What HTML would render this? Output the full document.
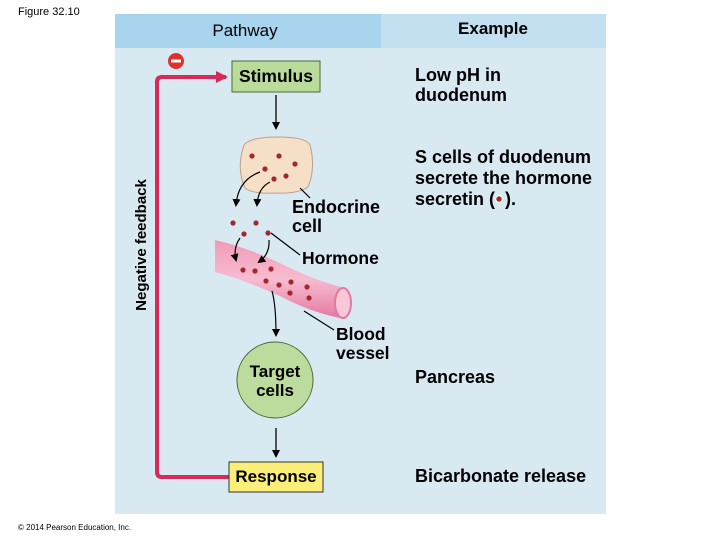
<!DOCTYPE html>
<html><head><style>body{margin:0;background:#fff}svg{display:block}text{font-family:"Liberation Sans",sans-serif;font-weight:bold}</style></head><body>
<svg width="720" height="540" xmlns="http://www.w3.org/2000/svg">
<defs>
<marker id="a" markerWidth="8" markerHeight="8" refX="6" refY="4" orient="auto" markerUnits="userSpaceOnUse"><path d="M0,0 L8,4 L0,8 Z" fill="#000"/></marker>
<marker id="r" markerWidth="12" markerHeight="12" refX="10" refY="6" orient="auto" markerUnits="userSpaceOnUse"><path d="M0,0 L12,6 L0,12 Z" fill="#d82a5a"/></marker>
<linearGradient id="v" x1="0" y1="0" x2="0" y2="1"><stop offset="0" stop-color="#f29ab8"/><stop offset="0.5" stop-color="#f7bcd0"/><stop offset="1" stop-color="#e57aa2"/></linearGradient>
</defs>
<text x="18" y="15" font-size="11" style="font-weight:normal">Figure 32.10</text>
<rect x="115" y="14" width="491" height="500" fill="#d8e9f2"/>
<rect x="115" y="14" width="266" height="34" fill="#a9d4ee"/>
<rect x="381" y="14" width="225" height="34" fill="#c3e0f1"/>
<text x="245" y="36" font-size="17" text-anchor="middle" style="font-weight:normal">Pathway</text>
<text x="493" y="34" font-size="17" text-anchor="middle">Example</text>
<path d="M232,477 L162,477 Q157,477 157,472 L157,82 Q157,77 162,77 L226,77" fill="none" stroke="#d82a5a" stroke-width="4" marker-end="url(#r)"/>
<circle cx="176" cy="61" r="8" fill="#e0302e"/><rect x="171" y="59.5" width="10" height="3" fill="#fff"/>
<text transform="translate(146,245) rotate(-90)" font-size="15" text-anchor="middle">Negative feedback</text>
<rect x="232" y="61" width="88" height="31" fill="#b9dc9a" stroke="#4a6b3a"/>
<text x="276" y="82" font-size="17.5" text-anchor="middle">Stimulus</text>
<line x1="276" y1="95" x2="276" y2="128" stroke="#000" stroke-width="1.3" marker-end="url(#a)"/>
<path d="M244,145 Q250,137 278,137 Q306,137 310,145 Q316,168 308,187 Q298,194 276,193 Q252,194 245,188 Q236,168 244,145 Z" fill="#f6dfc7" stroke="#b9a08a"/>
<g fill="#a4272a"><circle cx="252" cy="156" r="2.6"/><circle cx="279" cy="156" r="2.6"/><circle cx="295" cy="164" r="2.6"/><circle cx="265" cy="169" r="2.6"/><circle cx="274" cy="179" r="2.6"/><circle cx="286" cy="176" r="2.6"/>
<circle cx="233" cy="223" r="2.6"/><circle cx="256" cy="223" r="2.6"/><circle cx="244" cy="234" r="2.6"/><circle cx="268" cy="233" r="2.6"/></g>
<path d="M260,172 Q238,180 236,205" fill="none" stroke="#000" stroke-width="1.2" marker-end="url(#a)"/>
<path d="M270,182 Q258,188 257,205" fill="none" stroke="#000" stroke-width="1.2" marker-end="url(#a)"/>
<line x1="300" y1="188" x2="310" y2="198" stroke="#000" stroke-width="1.2"/>
<text x="292" y="213" font-size="18">Endocrine</text><text x="292" y="232" font-size="18">cell</text>
<path d="M215,240 Q250,248 290,268 Q320,282 345,288 L340,318 Q310,312 280,296 Q245,280 215,272 Z" fill="url(#v)"/>
<ellipse cx="343" cy="303" rx="8" ry="15" fill="#f9c8d8" stroke="#e07aa0" stroke-width="2"/>
<g fill="#a4272a"><circle cx="243" cy="270" r="2.6"/><circle cx="255" cy="271" r="2.6"/><circle cx="271" cy="269" r="2.6"/><circle cx="266" cy="281" r="2.6"/><circle cx="279" cy="285" r="2.6"/><circle cx="291" cy="282" r="2.6"/><circle cx="290" cy="293" r="2.6"/><circle cx="307" cy="287" r="2.6"/><circle cx="309" cy="298" r="2.6"/></g>
<path d="M240,238 Q233,248 236,260" fill="none" stroke="#000" stroke-width="1.2" marker-end="url(#a)"/>
<path d="M269,240 Q270,254 259,262" fill="none" stroke="#000" stroke-width="1.2" marker-end="url(#a)"/>
<line x1="271" y1="233" x2="300" y2="255" stroke="#000" stroke-width="1.2"/>
<text x="302" y="264" font-size="17.5">Hormone</text>
<line x1="304" y1="311" x2="334" y2="330" stroke="#000" stroke-width="1.2"/>
<text x="336" y="340" font-size="17.5">Blood</text><text x="336" y="359" font-size="17.5">vessel</text>
<path d="M272,291 Q276,305 276,335" fill="none" stroke="#000" stroke-width="1.2" marker-end="url(#a)"/>
<circle cx="275" cy="380" r="38" fill="#bcdc9e" stroke="#4a6b3a"/>
<text x="275" y="377" font-size="17" text-anchor="middle">Target</text><text x="275" y="396" font-size="17" text-anchor="middle">cells</text>
<line x1="276" y1="428" x2="276" y2="456" stroke="#000" stroke-width="1.3" marker-end="url(#a)"/>
<rect x="229" y="462" width="94" height="30" fill="#fbef79" stroke="#333"/>
<text x="276" y="482" font-size="17" text-anchor="middle">Response</text>
<g font-size="18">
<text x="415" y="81">Low pH in</text><text x="415" y="101">duodenum</text>
<text x="415" y="163">S cells of duodenum</text><text x="415" y="184">secrete the hormone</text><text x="415" y="205">secretin (</text><text x="505" y="205">).</text>
<text x="415" y="383">Pancreas</text><text x="415" y="482">Bicarbonate release</text>
</g>
<circle cx="499" cy="199" r="3.2" fill="#a4272a" stroke="#fff"/>
<text x="18" y="530" font-size="8" style="font-weight:normal">© 2014 Pearson Education, Inc.</text>
</svg>
</body></html>
